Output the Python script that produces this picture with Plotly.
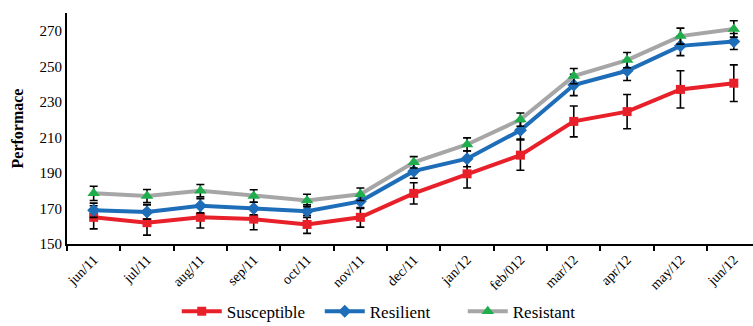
import plotly.graph_objects as go

months = ["jun/11", "jul/11", "aug/11", "sep/11", "oct/11", "nov/11", "dec/11",
          "jan/12", "feb/012", "mar/12", "apr/12", "may/12", "jun/12"]

susceptible = [165, 162, 165, 164, 161, 165, 178.5, 189.5, 200, 219, 224.5, 237, 240.5]
susceptible_err = [6.5, 7, 6, 6, 5, 5.5, 6, 8, 8.5, 8.7, 9.6, 10.5, 10.3]

resilient = [169, 168, 171.5, 170, 168.5, 174, 191, 198, 214, 239.5, 247.5, 261.5, 264]
resilient_err = [4, 4, 4, 3.5, 3.5, 4, 4, 4.5, 5, 6, 5.5, 5.5, 4.5]

resistant = [178.5, 177, 180, 177, 174.5, 178, 196, 206, 220, 244.5, 253.5, 267, 271]
resistant_err = [4, 3.7, 3.5, 3.5, 3.5, 3.5, 3.2, 3.7, 3.7, 4.3, 4.3, 4.5, 4.6]

series = [
    ("Susceptible", susceptible, susceptible_err, "#E8202A", "#E8202A", "square", 9),
    ("Resilient", resilient, resilient_err, "#1E6DB8", "#1E6DB8", "diamond", 10),
    ("Resistant", resistant, resistant_err, "#A6A6A6", "#1FAE4B", "triangle-up", 11),
]

SERIF = "Liberation Serif"

fig = go.Figure()
for name, vals, errs, line_color, marker_color, symbol, size in series:
    fig.add_trace(go.Scatter(
        x=months, y=vals, name=name, mode="lines+markers",
        line=dict(color=line_color, width=4),
        marker=dict(color=marker_color, symbol=symbol, size=size),
        error_y=dict(type="data", array=errs, color="black", thickness=1.6, width=4),
    ))

fig.update_layout(
    width=753, height=326,
    margin=dict(l=67, r=0, t=13, b=82, autoexpand=False),
    paper_bgcolor="white", plot_bgcolor="white",
    font=dict(family=SERIF, color="black"),
    showlegend=True,
    legend=dict(orientation="h", x=0.16, xanchor="left", y=-0.215, yanchor="top",
                font=dict(family=SERIF, size=17), itemwidth=40, tracegroupgap=0,
                entrywidth=88),
    xaxis=dict(type="category", range=[-0.5, 12.36], showline=True, linecolor="black",
               linewidth=2, ticks="outside", tickson="boundaries", ticklen=5,
               tickcolor="black", tickwidth=2, tickangle=-45,
               tickfont=dict(family=SERIF, size=14), showgrid=False, zeroline=False),
    yaxis=dict(range=[150, 280], tickvals=[150, 170, 190, 210, 230, 250, 270],
               showline=True, linecolor="black", linewidth=2, ticks="",
               tickfont=dict(family=SERIF, size=15), showgrid=False, zeroline=False,
               title=dict(text="<b>Performace</b>", font=dict(family=SERIF, size=16),
                          standoff=12)),
)

fig.write_html("out.html")
